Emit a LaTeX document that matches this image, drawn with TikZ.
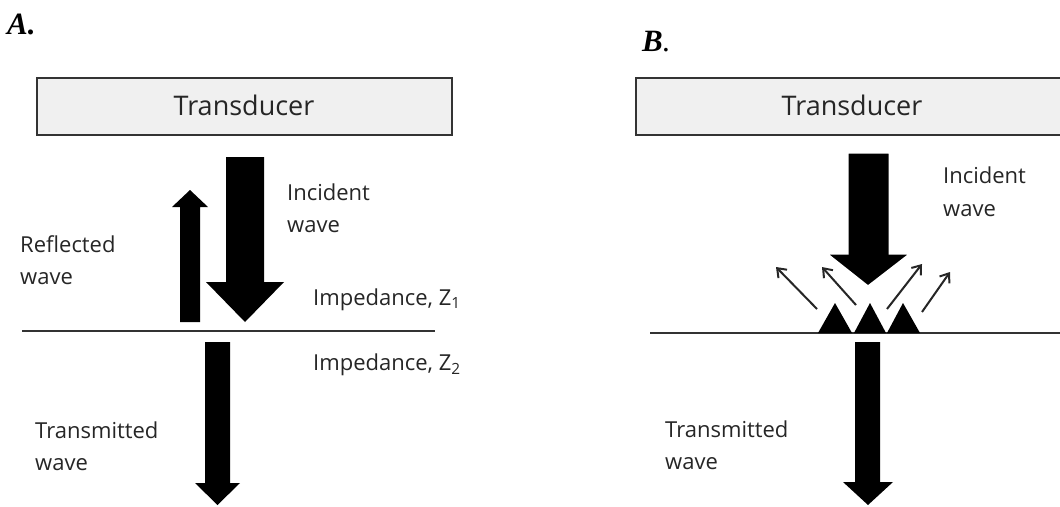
\documentclass[tikz,border=0pt]{standalone}
\usepackage{fontspec}
\setmainfont{Open Sans}
\newfontfamily\labfont{Liberation Serif}
\usetikzlibrary{arrows.meta}
\definecolor{txt}{HTML}{262626}
\definecolor{boxfill}{HTML}{F0F0F0}
\definecolor{edge}{HTML}{333333}
\begin{document}
\begin{tikzpicture}[x=1pt,y=-1pt,
  lbl/.style={anchor=base west,inner sep=0pt,text=txt,font=\fontsize{22}{32}\selectfont},
  tdbox/.style={draw=edge,line width=2.5pt,fill=boxfill},
  tdtext/.style={anchor=base,inner sep=0pt,text=txt,font=\fontsize{27}{32}\selectfont},
  panel/.style={anchor=base west,inner sep=0pt,font=\fontsize{31}{34}\labfont},
  iface/.style={draw=edge,line width=2.8pt},
  bigarrow/.style={fill=black},
  smallarrow/.style={draw=black!85,line width=2pt,-{Straight Barb[length=8pt,width=12pt,line width=2pt]}}]
\useasboundingbox (0,0) rectangle (1060,506);

% ---------- Panel A ----------
\node[panel] (labA) at (7,34) {\textbf{\textit{A.}}};
\draw[tdbox] (37,78) rectangle (452,135);
\node[tdtext] (tdA) at (244,115) {Transducer};

% reflected arrow (up)
\fill[bigarrow] (180,322) -- (180,207) -- (172,207) -- (190,190) -- (208,207) -- (200,207) -- (200,322) -- cycle;
% incident arrow (down)
\fill[bigarrow] (226,157) -- (264,157) -- (264,282) -- (284,282) -- (245,322) -- (206,282) -- (226,282) -- cycle;
% interface
\coordinate (ifA1) at (22,331);
\coordinate (ifA2) at (435,331);
\draw[iface] (ifA1) -- (ifA2);
% transmitted arrow
\fill[bigarrow] (205,342) -- (230,342) -- (230,483) -- (240,483) -- (217.5,505) -- (195,483) -- (205,483) -- cycle;

\node[lbl] (incA1) at (287,200) {Incident};
\node[lbl] (incA2) at (287,232) {wave};
\node[lbl] (refA1) at (20,252) {Reflected};
\node[lbl] (refA2) at (20,284) {wave};
\node[lbl] (zA1) at (313,305) {Impedance, Z\textsubscript{1}};
\node[lbl] (zA2) at (313,370) {Impedance, Z\textsubscript{2}};
\node[lbl] (trA1) at (35,438) {Transmitted};
\node[lbl] (trA2) at (35,470) {wave};

% ---------- Panel B ----------
\node[panel] (labB) at (642,51) {\textbf{\textit{B}}\textit{.}};
\draw[tdbox] (636,78) rectangle (1075,135);
\node[tdtext] (tdB) at (852,115) {Transducer};

% interface
\coordinate (ifB1) at (650,333);
\coordinate (ifB2) at (1060,333);
\draw[iface] (ifB1) -- (ifB2);
% rough-surface triangles
\fill[black] (818,333) -- (835,303) -- (852,333) -- cycle;
\fill[black] (854,333) -- (870,303) -- (886,333) -- cycle;
\fill[black] (887,333) -- (903,303) -- (920,333) -- cycle;
% scattered small arrows
\coordinate (s1a) at (817,309); \coordinate (s1b) at (776,267);
\coordinate (s2a) at (856,305); \coordinate (s2b) at (822,267);
\coordinate (s3a) at (887,309); \coordinate (s3b) at (922,264);
\coordinate (s4a) at (922,312); \coordinate (s4b) at (950,272);
\draw[smallarrow] (s1a) -- (s1b);
\draw[smallarrow] (s2a) -- (s2b);
\draw[smallarrow] (s3a) -- (s3b);
\draw[smallarrow] (s4a) -- (s4b);
% incident arrow with white outline
\filldraw[fill=black,draw=white,line width=3pt,line join=miter] (847,152) -- (890,152) -- (890,253) -- (912,253) -- (868,287) -- (825,253) -- (847,253) -- cycle;
% transmitted arrow
\fill[bigarrow] (855,342) -- (880,342) -- (880,482) -- (893,482) -- (868,505) -- (843,482) -- (855,482) -- cycle;

\node[lbl] (incB1) at (943,183) {Incident};
\node[lbl] (incB2) at (943,216) {wave};
\node[lbl] (trB1) at (665,437) {Transmitted};
\node[lbl] (trB2) at (665,469) {wave};
\end{tikzpicture}
\end{document}
